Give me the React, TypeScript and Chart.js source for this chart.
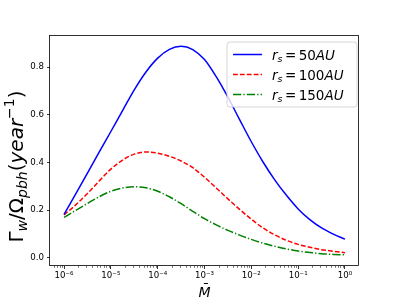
import { useEffect, useRef } from "react";
import { Chart, registerables } from "chart.js";

Chart.register(...registerables);

// ---- data ----
const massValues = [
  1e-6, 1.778e-6, 3.162e-6, 5.623e-6,
  1e-5, 1.778e-5, 3.162e-5, 5.623e-5,
  1e-4, 1.778e-4, 3.162e-4, 5.623e-4,
  1e-3, 1.778e-3, 3.162e-3, 5.623e-3,
  1e-2, 1.778e-2, 3.162e-2, 5.623e-2,
  1e-1, 1.778e-1, 3.162e-1, 5.623e-1,
  1,
];
const rate50AU = [
  0.182, 0.268, 0.355, 0.443,
  0.53, 0.618, 0.705, 0.78,
  0.838, 0.875, 0.888, 0.874,
  0.832, 0.76, 0.674, 0.58,
  0.487, 0.402, 0.327, 0.262,
  0.205, 0.16, 0.125, 0.099,
  0.078,
];
const rate100AU = [
  0.18, 0.222, 0.27, 0.322,
  0.372, 0.41, 0.435, 0.444,
  0.439, 0.426, 0.406, 0.378,
  0.338, 0.293, 0.247, 0.203,
  0.162, 0.125, 0.096, 0.073,
  0.056, 0.044, 0.034, 0.027,
  0.021,
];
const rate150AU = [
  0.169, 0.199, 0.228, 0.256,
  0.279, 0.293, 0.298, 0.294,
  0.279, 0.256, 0.227, 0.195,
  0.164, 0.138, 0.115, 0.095,
  0.077, 0.061, 0.048, 0.037,
  0.028, 0.022, 0.017, 0.014,
  0.012,
];
const seriesLabels = ["r_s = 50AU", "r_s = 100AU", "r_s = 150AU"];
const seriesNumbers = ["50", "100", "150"];

const xMajorTicks = [1e-6, 1e-5, 1e-4, 1e-3, 1e-2, 1e-1, 1];
const xTickLabels = ["10⁻⁶", "10⁻⁵", "10⁻⁴", "10⁻³", "10⁻²", "10⁻¹", "10⁰"];
const yTicks = [0, 0.2, 0.4, 0.6, 0.8];
const yTickLabels = ["0.0", "0.2", "0.4", "0.6", "0.8"];
const xMin = 5.012e-7;
const xMax = 1.995;
const yMin = -0.0347;
const yMax = 0.931;

// ---- styling ----
const FONT = '"DejaVu Sans"';
const colors = ["#0000ff", "#ff0000", "#008000"];
const dashes: number[][] = [[], [4.8, 2.1], [8.3, 2.1, 1.3, 2.1]];

type Seg = { t: string; it?: boolean; sub?: boolean; sup?: boolean; gapL?: number; gapR?: number };

function drawRich(
  ctx: CanvasRenderingContext2D,
  segs: Seg[],
  x: number,
  y: number,
  size: number,
  align: "left" | "center"
) {
  let total = 0;
  const items = segs.map((s) => {
    const fs = s.sub || s.sup ? size * 0.7 : size;
    const font = `${s.it ? "italic " : ""}${fs}px ${FONT}`;
    ctx.font = font;
    const w = ctx.measureText(s.t).width + ((s.gapL || 0) + (s.gapR || 0)) * size;
    total += w;
    return { ...s, fs, font, w };
  });
  let cx = align === "center" ? x - total / 2 : x;
  ctx.textBaseline = "alphabetic";
  ctx.textAlign = "left";
  for (const it of items) {
    ctx.font = it.font;
    const dy = it.sub ? size * 0.22 : it.sup ? -size * 0.42 : 0;
    ctx.fillText(it.t, cx + (it.gapL || 0) * size, y + dy);
    cx += it.w;
  }
}

const decorPlugin = {
  id: "decor",
  afterDraw(chart: any) {
    const ctx: CanvasRenderingContext2D = chart.ctx;
    const area = chart.chartArea;
    const xs = chart.scales.x;
    ctx.save();
    // minor ticks on log axis
    ctx.strokeStyle = "#000";
    ctx.lineWidth = 0.55;
    for (let d = -7; d <= 0; d++) {
      for (let m = 2; m <= 9; m++) {
        const v = m * Math.pow(10, d);
        if (v < xMin || v > xMax) continue;
        const px = Math.round(xs.getPixelForValue(v)) + 0.5;
        ctx.beginPath();
        ctx.moveTo(px, area.bottom);
        ctx.lineTo(px, area.bottom + 1.8);
        ctx.stroke();
      }
    }
    // frame
    ctx.strokeStyle = "#000";
    ctx.lineWidth = 0.8;
    ctx.strokeRect(area.left - 0.5, area.top - 0.5, area.right - area.left, area.bottom - area.top);

    // legend
    const bx = 227, by = 42, bw = 130, bh = 65, r = 3;
    ctx.beginPath();
    ctx.moveTo(bx + r, by);
    ctx.arcTo(bx + bw, by, bx + bw, by + bh, r);
    ctx.arcTo(bx + bw, by + bh, bx, by + bh, r);
    ctx.arcTo(bx, by + bh, bx, by, r);
    ctx.arcTo(bx, by, bx + bw, by, r);
    ctx.closePath();
    ctx.fillStyle = "rgba(255,255,255,0.8)";
    ctx.fill();
    ctx.strokeStyle = "#cccccc";
    ctx.lineWidth = 0.8;
    ctx.stroke();
    chart.data.datasets.forEach((ds: any, i: number) => {
      const ry = 54.5 + i * 20;
      ctx.strokeStyle = colors[i];
      ctx.lineWidth = 1.5;
      ctx.setLineDash(dashes[i]);
      ctx.beginPath();
      ctx.moveTo(233, ry);
      ctx.lineTo(262, ry);
      ctx.stroke();
      ctx.setLineDash([]);
      ctx.fillStyle = "#000";
      drawRich(
        ctx,
        [
          { t: "r", it: true },
          { t: "s", it: true, sub: true },
          { t: "=", gapL: 0.18, gapR: 0.18 },
          { t: seriesNumbers[i] },
          { t: "AU", it: true },
        ],
        272,
        ry + 5,
        13.5,
        "left"
      );
    });

    // y axis title
    ctx.fillStyle = "#000";
    ctx.save();
    ctx.translate(22.7, 166.5);
    ctx.rotate(-Math.PI / 2);
    drawRich(
      ctx,
      [
        { t: "Γ" },
        { t: "w", it: true, sub: true },
        { t: "/" },
        { t: "Ω" },
        { t: "pbh", it: true, sub: true },
        { t: "(" },
        { t: "year", it: true },
        { t: "−1", sup: true },
        { t: ")" },
      ],
      0,
      0,
      20,
      "center"
    );
    ctx.restore();

    // x axis title
    ctx.font = `italic 14px ${FONT}`;
    ctx.textAlign = "center";
    ctx.textBaseline = "alphabetic";
    ctx.fillText("M\u0304", (area.left + area.right) / 2, 296.5);
    ctx.restore();
  },
};

export default function App() {
  const ref = useRef<HTMLCanvasElement | null>(null);
  useEffect(() => {
    document.body.style.margin = "0";
    const canvas = ref.current!;
    const series = [rate50AU, rate100AU, rate150AU];
    const chart = new Chart(canvas, {
      type: "line",
      data: {
        datasets: series.map((vals, i) => ({
          label: seriesLabels[i],
          data: massValues.map((x, j) => ({ x, y: vals[j] })),
          borderColor: colors[i],
          borderWidth: 1.5,
          borderDash: dashes[i],
          pointRadius: 0,
          cubicInterpolationMode: "monotone",
          fill: false,
        })),
      },
      options: {
        animation: false,
        responsive: false,
        layout: { padding: { left: 0, right: 40, top: 36, bottom: 0 } },
        plugins: { legend: { display: false }, tooltip: { enabled: false } },
        scales: {
          x: {
            type: "logarithmic",
            min: xMin,
            max: xMax,
            afterBuildTicks: (s: any) => {
              s.ticks = xMajorTicks.map((v) => ({ value: v }));
            },
            afterFit: (s: any) => {
              s.height = 33;
            },
            ticks: {
              autoSkip: false,
              maxRotation: 0,
              minRotation: 0,
              padding: 1.5,
              color: "#000",
              font: { family: "DejaVu Sans", size: 8.65 },
              callback: (v: any) => {
                const k = xMajorTicks.indexOf(Number(v));
                return k >= 0 ? xTickLabels[k] : "";
              },
            },
            grid: {
              drawOnChartArea: false,
              drawTicks: true,
              tickLength: 3,
              tickColor: "#000",
              tickWidth: 0.8,
            },
            border: { display: false },
          },
          y: {
            type: "linear",
            min: yMin,
            max: yMax,
            afterBuildTicks: (s: any) => {
              s.ticks = yTicks.map((v) => ({ value: v }));
            },
            afterFit: (s: any) => {
              s.width = 50;
            },
            ticks: {
              autoSkip: false,
              padding: 3,
              color: "#000",
              font: { family: "DejaVu Sans", size: 8.65 },
              callback: (v: any) => {
                const k = yTicks.indexOf(Number(v));
                return k >= 0 ? yTickLabels[k] : "";
              },
            },
            grid: {
              drawOnChartArea: false,
              drawTicks: true,
              tickLength: 3,
              tickColor: "#000",
              tickWidth: 0.8,
            },
            border: { display: false },
          },
        },
      } as any,
      plugins: [decorPlugin],
    });
    return () => chart.destroy();
  }, []);
  return (
    <div style={{ position: "absolute", left: 0, top: 0, width: 399, height: 299 }}>
      <canvas ref={ref} width={399} height={299} style={{ display: "block", width: 399, height: 299 }} />
    </div>
  );
}
